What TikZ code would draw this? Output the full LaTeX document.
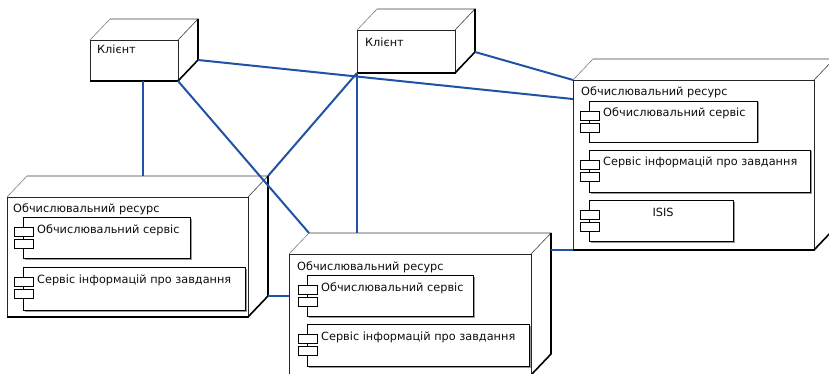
\documentclass[tikz,border=0pt]{standalone}
\usepackage{fontspec}
\setmainfont{DejaVu Sans}
\usetikzlibrary{calc,shadows}
\definecolor{linkblue}{RGB}{32,82,165}
\tikzset{
 front/.style={draw=black!85, line width=0.6pt, fill=white, inner sep=0pt, outer sep=0pt, anchor=north west},
 thinedge/.style={draw=black!75, line width=0.6pt},
 thickedge/.style={draw=black, line width=1.6pt},
 comp/.style={draw=black, line width=0.7pt, fill=white, inner sep=0pt, outer sep=0pt, anchor=north west,
   drop shadow={shadow xshift=1.5pt, shadow yshift=-1.5pt, fill=black!40, opacity=1}},
 port/.style={draw=black, line width=0.6pt, fill=white, inner sep=0pt, outer sep=0pt, anchor=north west,
   minimum width=19pt, minimum height=9pt},
 lbl/.style={font=\fontsize{11.3}{13}\selectfont, text=black!95, inner sep=0pt, anchor=base west},
 link/.style={draw=linkblue, line width=2pt},
}
\newcommand{\cubebox}[5]{%
 \node[front, minimum width=#4pt, minimum height=#5pt] (#1) at (#2,#3) {};
 \coordinate (#1-bnw) at ($(#1.north west)+(20pt,21pt)$);
 \coordinate (#1-bne) at ($(#1.north east)+(20pt,21pt)$);
 \coordinate (#1-bse) at ($(#1.south east)+(20pt,21pt)$);
 \draw[thinedge, draw=black!50] (#1.north west) -- (#1-bnw);
 \draw[thinedge] (#1-bnw) -- (#1-bne) -- (#1.north east);
 \draw[thickedge] (#1.south west) -- (#1.south east) -- (#1-bse) -- (#1-bne);
}
\newcommand{\compbox}[5]{%
 \node[comp, minimum width=#4pt, minimum height=#5pt] (#1) at (#2,#3) {};
 \node[port] (#1-p1) at ($(#1.north west)+(-9pt,-10pt)$) {};
 \node[port] (#1-p2) at ($(#1.north west)+(-9pt,-22pt)$) {};
}
\begin{document}
\begin{tikzpicture}[x=1pt,y=-1pt]
\useasboundingbox (0,0) rectangle (829,374);
\clip (0,0) rectangle (829,374);
\fill[white] (0,0) rectangle (829,374);

% clients
\cubebox{c1}{90}{40}{88}{41}
\node[lbl] (c1t) at ($(c1.north west)+(7pt,-14pt)$) {Клієнт};
\cubebox{c2}{357}{30}{98}{43}
\node[lbl] (c2t) at ($(c2.north west)+(8pt,-17pt)$) {Клієнт};

% left resource
\cubebox{r1}{7}{197}{241}{120}
\node[lbl] (r1t) at ($(r1.north west)+(6pt,-15pt)$) {Обчислювальний ресурс};
\compbox{r1c1}{23}{217}{167}{41}
\node[lbl] (r1c1t) at ($(r1c1.north west)+(14pt,-16pt)$) {Обчислювальний сервіс};
\compbox{r1c2}{23}{267}{222}{43}
\node[lbl] (r1c2t) at ($(r1c2.north west)+(14pt,-16pt)$) {Сервіс інформацій про завдання};

% right resource
\cubebox{r2}{573}{80}{241}{170}
\node[lbl] (r2t) at ($(r2.north west)+(8pt,-16pt)$) {Обчислювальний ресурс};
\compbox{r2c1}{589}{101}{168}{41}
\node[lbl] (r2c1t) at ($(r2c1.north west)+(14pt,-16pt)$) {Обчислювальний сервіс};
\compbox{r2c2}{589}{150}{221}{42}
\node[lbl] (r2c2t) at ($(r2c2.north west)+(14pt,-16pt)$) {Сервіс інформацій про завдання};
\compbox{r2c3}{589}{200}{144}{41}
\node[lbl, anchor=base] (r2c3t) at ($(r2c3.north)+(2pt,-16pt)$) {ISIS};

% bottom centre resource
\cubebox{r3}{289}{254}{242}{121}
\node[lbl] (r3t) at ($(r3.north west)+(8pt,-16pt)$) {Обчислювальний ресурс};
\compbox{r3c1}{307}{275}{166}{41}
\node[lbl] (r3c1t) at ($(r3c1.north west)+(14pt,-16pt)$) {Обчислювальний сервіс};
\compbox{r3c2}{307}{324}{222}{42}
\node[lbl] (r3c2t) at ($(r3c2.north west)+(14pt,-16pt)$) {Сервіс інформацій про завдання};

% connectors
\draw[link] ($(c1.south west)!0.6!(c1.south east)$) coordinate (l1a) -- (l1a |- r1-bnw);
\draw[link] (c1.south east) -- (r3-bnw);
\draw[link] (c1-bse) -- ($(r2.north west)!0.112!(r2.south west)$);
\draw[link] (c2.south west) -- (r1-bne);
\draw[link] (c2.south west) -- (c2.south west |- r3-bnw);
\draw[link] (c2-bse) -- (r2.north west);
\draw[link] (r2.south west -| r3-bne) -- (r2.south west);
\draw[link] (r1-bse) -- (r1-bse -| r3.west);
\end{tikzpicture}
\end{document}
